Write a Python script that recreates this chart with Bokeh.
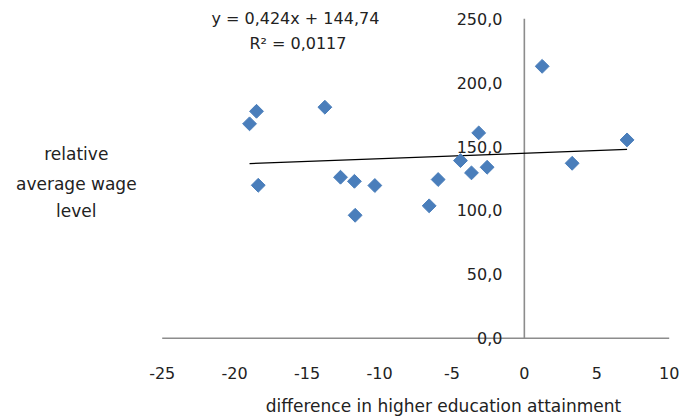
from bokeh.plotting import figure
from bokeh.models import Range1d, ColumnDataSource
from bokeh.core.properties import value
from bokeh.embed import file_html
from bokeh.resources import INLINE
import numpy as np

# ---- data ----
edu_diff = [-18.49, -18.97, -13.77, -18.37, -12.69, -11.73, -10.32, -11.68,
            -3.15, -4.41, -3.65, -2.57, -5.95, -6.57, 1.23, 7.09, 3.30]
wage_level = [177.6, 167.8, 180.8, 119.7, 126.0, 122.8, 119.5, 96.2,
              160.7, 139.0, 129.4, 133.8, 124.2, 103.6, 212.8, 155.2, 136.9]

trend_slope = 0.424
trend_intercept = 144.74
eq_lines = ["y = 0,424x  + 144,74", "R\u00b2 = 0,0117"]

x_ticks = [-25, -20, -15, -10, -5, 0, 5, 10]
x_tick_labels = ["-25", "-20", "-15", "-10", "-5", "0", "5", "10"]
y_ticks = [0, 50, 100, 150, 200, 250]
y_tick_labels = ["0,0", "50,0", "100,0", "150,0", "200,0", "250,0"]

x_title = "difference in higher education attainment"
y_title_lines = ["relative", "average wage", "level"]

# ---- layout / style ----
FONT = value("DejaVu Sans")
TXT = "#222222"
AXIS_COL = "#8c8c8c"
MARK = "#4A7EBB"

# whole canvas is the frame; axes are drawn at x = 0 and y = 0
p = figure(width=683, height=419, output_backend="svg", toolbar_location=None,
           x_range=Range1d(-36.163, 10.987), y_range=Range1d(-63.64, 264.32),
           x_axis_location=None, y_axis_location=None, min_border=0)
p.min_border_left = p.min_border_right = p.min_border_top = p.min_border_bottom = 0
p.outline_line_color = None
p.grid.visible = False
p.background_fill_color = "white"
p.border_fill_color = "white"

# axis lines
p.segment(x0=[x_ticks[0]], y0=[0], x1=[x_ticks[-1]], y1=[0],
          line_color=AXIS_COL, line_width=1.6)
p.segment(x0=[0], y0=[y_ticks[0]], x1=[0], y1=[y_ticks[-1]],
          line_color=AXIS_COL, line_width=1.6)

# tick labels
x_lab_y = -27.6     # position of x tick labels (below the axis)
y_lab_x = -1.51     # right edge of y tick labels (left of the axis)
p.text(x=x_ticks, y=[x_lab_y] * len(x_ticks), text=x_tick_labels,
       text_align="center", text_baseline="middle", text_font=FONT,
       text_font_size="16px", text_color=TXT)
p.text(x=[y_lab_x] * len(y_ticks), y=y_ticks, text=y_tick_labels,
       text_align="right", text_baseline="middle", text_font=FONT,
       text_font_size="16px", text_color=TXT)

# axis titles
p.text(x=[-5.58], y=[-52.7], text=[x_title], text_align="center",
       text_baseline="middle", text_font=FONT, text_font_size="17px",
       text_color=TXT)
p.text(x=[-30.93] * 3, y=[144.5, 121.0, 99.9], text=y_title_lines,
       text_align="center", text_baseline="middle", text_font=FONT,
       text_font_size="17px", text_color=TXT)

# trend line
xs = np.array([min(edu_diff), max(edu_diff)])
p.line(xs, trend_slope * xs + trend_intercept, line_color="black", line_width=1.3)

# points (Excel-style diamonds)
src = ColumnDataSource(dict(x=edu_diff, y=wage_level))
p.scatter("x", "y", source=src, marker="square", angle=np.pi / 4, size=9.8,
          fill_color=MARK, line_color=MARK)

# trendline equation
p.text(x=[-15.63, -15.63], y=[250.6, 230.7], text=eq_lines,
       text_align="center", text_baseline="middle", text_font=FONT,
       text_font_size="16px", text_color=TXT)

open("out.html", "w").write(file_html(p, INLINE))
